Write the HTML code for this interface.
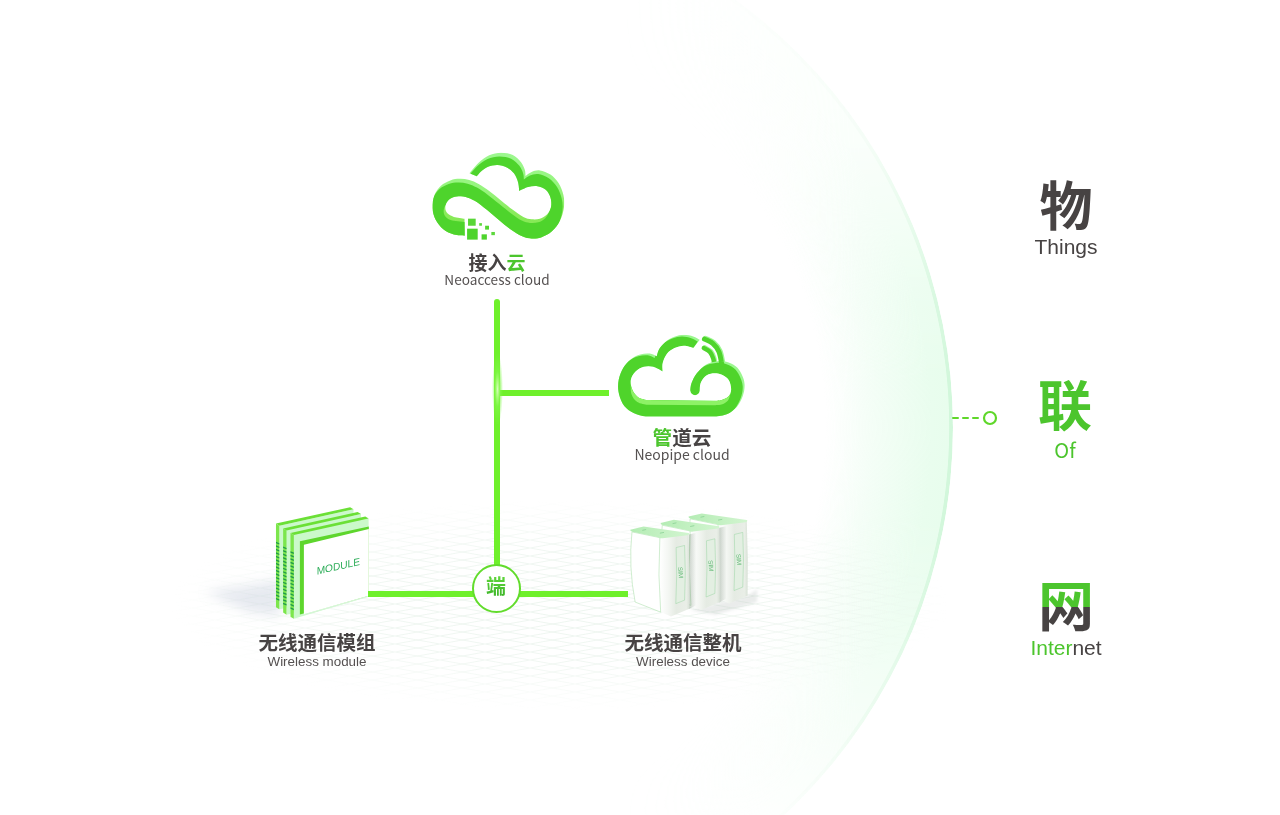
<!DOCTYPE html>
<html lang="zh-CN">
<head>
<meta charset="utf-8">
<title>物联网</title>
<style>
html,body{margin:0;padding:0;background:#fff;}
body{width:1280px;height:815px;position:relative;overflow:hidden;font-family:"Liberation Sans","Noto Sans CJK SC",sans-serif;color:#474343;}
.abs{position:absolute;}
.cn{font-family:"Noto Sans CJK SC","Liberation Sans",sans-serif;font-weight:700;}
.g{color:#4cc52d;}
.lbl,.right,#duan,svg.abs{will-change:transform;}
.lbl{position:absolute;text-align:center;white-space:nowrap;transform:translateX(-50%);}
.lbl .t{display:block;font-family:"Noto Sans CJK SC",sans-serif;font-weight:700;font-size:19.5px;line-height:24px;color:#474343;}
.lbl .s{display:block;font-size:13.4px;line-height:16px;color:#555151;}
.lbl .s.ns{font-family:"Noto Sans CJK SC",sans-serif;font-size:13.6px;}
.line{position:absolute;background:#6ff02b;}
#arcwrap{position:absolute;left:0;top:0;width:1280px;height:815px;-webkit-mask-image:linear-gradient(to right,transparent 620px,#000 860px);mask-image:linear-gradient(to right,transparent 620px,#000 860px);}
#arc{position:absolute;left:-106.6px;top:-102px;width:1059.2px;height:1059.2px;border-radius:50%;
 background:radial-gradient(circle closest-side,rgba(233,253,238,0) 0,rgba(233,253,238,0) 76%,rgba(233,253,238,.5) 85%,rgba(233,253,238,1) 96%,rgba(232,253,237,1) 99.3%,rgba(210,247,219,1) 99.45%,rgba(210,247,219,1) 100%);
 -webkit-mask-image:linear-gradient(to bottom,rgba(0,0,0,0) 0,rgba(0,0,0,.1) 9.6%,rgba(0,0,0,.22) 22.8%,rgba(0,0,0,.5) 30.4%,rgba(0,0,0,.85) 38%,#000 45.5%,#000 58.7%,rgba(0,0,0,.75) 68%,rgba(0,0,0,.45) 75.7%,rgba(0,0,0,.12) 86.6%,rgba(0,0,0,0) 100%);
 mask-image:linear-gradient(to bottom,rgba(0,0,0,0) 0,rgba(0,0,0,.1) 9.6%,rgba(0,0,0,.22) 22.8%,rgba(0,0,0,.5) 30.4%,rgba(0,0,0,.85) 38%,#000 45.5%,#000 58.7%,rgba(0,0,0,.75) 68%,rgba(0,0,0,.45) 75.7%,rgba(0,0,0,.12) 86.6%,rgba(0,0,0,0) 100%);}
.right{position:absolute;text-align:center;white-space:nowrap;transform:translateX(-50%);}
.right .big{display:block;font-family:"Noto Sans CJK SC",sans-serif;font-weight:700;font-size:52px;line-height:60px;}
.duan{background:linear-gradient(to bottom,#5fd63a 0,#5fd63a 25%,#3fb62a 75%,#3fb62a 100%);-webkit-background-clip:text;background-clip:text;color:transparent;-webkit-text-fill-color:transparent;}
.wang{background:linear-gradient(to bottom,#4cc52d 0,#4cc52d 33.4px,#474343 33.4px,#474343 100%);-webkit-background-clip:text;background-clip:text;color:transparent;-webkit-text-fill-color:transparent;}
.right .sm{display:block;font-size:21px;line-height:24px;}
</style>
</head>
<body>
<div id="arcwrap"><div id="arc"></div></div>

<!-- floor grid -->
<svg class="abs" style="left:170px;top:500px" width="780" height="210" viewBox="0 0 780 210">
<defs>
<pattern id="gp" width="45" height="8" patternUnits="userSpaceOnUse"><path d="M0 0L45 8M0 8L45 0" stroke="#e9f2eb" stroke-width=".8" fill="none"/></pattern>
<radialGradient id="gm" cx=".5" cy=".5" r=".5"><stop offset="0" stop-color="#fff"/><stop offset=".55" stop-color="#fff" stop-opacity=".8"/><stop offset="1" stop-color="#fff" stop-opacity="0"/></radialGradient>
<mask id="gmask"><rect width="780" height="210" fill="url(#gm)"/></mask>
</defs>
<rect width="780" height="210" fill="url(#gp)" mask="url(#gmask)"/>
</svg>

<svg class="abs" style="left:428px;top:148px" width="140" height="96" viewBox="0 0 1189 815">
<defs><clipPath id="c1clip"><path d="M352.0 215.0C365.0 200.0 402.0 150.5 430.0 125.0C458.0 99.5 488.3 76.2 520.0 62.0C551.7 47.8 586.7 40.3 620.0 40.0C653.3 39.7 691.7 46.7 720.0 60.0C748.3 73.3 773.0 99.2 790.0 120.0C807.0 140.8 815.7 165.5 822.0 185.0C828.3 204.5 827.0 228.3 828.0 237.0C836.7 231.3 859.7 210.8 880.0 203.0C900.3 195.2 923.3 186.3 950.0 190.0C976.7 193.7 1013.3 206.7 1040.0 225.0C1066.7 243.3 1091.7 270.8 1110.0 300.0C1128.3 329.2 1142.5 366.7 1150.0 400.0C1157.5 433.3 1160.0 463.3 1155.0 500.0C1150.0 536.7 1137.5 585.0 1120.0 620.0C1102.5 655.0 1076.7 686.7 1050.0 710.0C1023.3 733.3 988.3 750.0 960.0 760.0C931.7 770.0 906.7 771.7 880.0 770.0C853.3 768.3 830.0 763.3 800.0 750.0C770.0 736.7 733.3 713.3 700.0 690.0C666.7 666.7 633.3 637.5 600.0 610.0C566.7 582.5 533.3 551.7 500.0 525.0C466.7 498.3 430.0 468.3 400.0 450.0C370.0 431.7 343.3 421.7 320.0 415.0C296.7 408.3 280.0 408.3 260.0 410.0C240.0 411.7 216.7 416.7 200.0 425.0C183.3 433.3 168.8 445.8 160.0 460.0C151.2 474.2 146.2 494.2 147.0 510.0C147.8 525.8 152.8 542.5 165.0 555.0C177.2 567.5 195.8 577.5 220.0 585.0C244.2 592.5 295.0 597.5 310.0 600.0L312.0 745.0C296.7 743.3 250.3 744.2 220.0 735.0C189.7 725.8 155.8 710.8 130.0 690.0C104.2 669.2 80.3 640.0 65.0 610.0C49.7 580.0 39.7 545.0 38.0 510.0C36.3 475.0 43.0 431.7 55.0 400.0C67.0 368.3 87.5 340.8 110.0 320.0C132.5 299.2 163.3 284.7 190.0 275.0C216.7 265.3 243.3 262.5 270.0 262.0C296.7 261.5 323.3 264.8 350.0 272.0C376.7 279.2 401.7 289.5 430.0 305.0C458.3 320.5 488.3 341.7 520.0 365.0C551.7 388.3 586.7 418.3 620.0 445.0C653.3 471.7 688.3 501.7 720.0 525.0C751.7 548.3 783.3 571.7 810.0 585.0C836.7 598.3 856.7 602.5 880.0 605.0C903.3 607.5 928.3 606.7 950.0 600.0C971.7 593.3 994.2 581.7 1010.0 565.0C1025.8 548.3 1040.0 524.2 1045.0 500.0C1050.0 475.8 1047.5 444.2 1040.0 420.0C1032.5 395.8 1018.3 370.8 1000.0 355.0C981.7 339.2 955.0 328.8 930.0 325.0C905.0 321.2 875.8 325.3 850.0 332.0C824.2 338.7 787.5 359.5 775.0 365.0C773.3 352.5 772.5 315.0 765.0 290.0C757.5 265.0 745.8 235.8 730.0 215.0C714.2 194.2 693.3 176.7 670.0 165.0C646.7 153.3 616.7 145.8 590.0 145.0C563.3 144.2 533.3 150.8 510.0 160.0C486.7 169.2 465.8 186.7 450.0 200.0C434.2 213.3 420.8 233.3 415.0 240.0Z"/></clipPath>
<linearGradient id="c1lg" x1="0" y1="0" x2="0" y2="1"><stop offset="0" stop-color="#9df892"/><stop offset=".45" stop-color="#96f47c"/><stop offset=".7" stop-color="#88ea58"/><stop offset="1" stop-color="#84e852"/></linearGradient></defs>
<g clip-path="url(#c1clip)">
<rect x="0" y="0" width="1189" height="815" fill="url(#c1lg)"/>
<path d="M352.0 215.0C365.0 200.0 402.0 150.5 430.0 125.0C458.0 99.5 488.3 76.2 520.0 62.0C551.7 47.8 586.7 40.3 620.0 40.0C653.3 39.7 691.7 46.7 720.0 60.0C748.3 73.3 773.0 99.2 790.0 120.0C807.0 140.8 815.7 165.5 822.0 185.0C828.3 204.5 827.0 228.3 828.0 237.0C836.7 231.3 859.7 210.8 880.0 203.0C900.3 195.2 923.3 186.3 950.0 190.0C976.7 193.7 1013.3 206.7 1040.0 225.0C1066.7 243.3 1091.7 270.8 1110.0 300.0C1128.3 329.2 1142.5 366.7 1150.0 400.0C1157.5 433.3 1160.0 463.3 1155.0 500.0C1150.0 536.7 1137.5 585.0 1120.0 620.0C1102.5 655.0 1076.7 686.7 1050.0 710.0C1023.3 733.3 988.3 750.0 960.0 760.0C931.7 770.0 906.7 771.7 880.0 770.0C853.3 768.3 830.0 763.3 800.0 750.0C770.0 736.7 733.3 713.3 700.0 690.0C666.7 666.7 633.3 637.5 600.0 610.0C566.7 582.5 533.3 551.7 500.0 525.0C466.7 498.3 430.0 468.3 400.0 450.0C370.0 431.7 343.3 421.7 320.0 415.0C296.7 408.3 280.0 408.3 260.0 410.0C240.0 411.7 216.7 416.7 200.0 425.0C183.3 433.3 168.8 445.8 160.0 460.0C151.2 474.2 146.2 494.2 147.0 510.0C147.8 525.8 152.8 542.5 165.0 555.0C177.2 567.5 190.0 577.5 220.0 585.0C250.0 592.5 324.2 597.5 345.0 600.0L345.0 745.0C324.2 743.3 255.8 744.2 220.0 735.0C184.2 725.8 155.8 710.8 130.0 690.0C104.2 669.2 80.3 640.0 65.0 610.0C49.7 580.0 39.7 545.0 38.0 510.0C36.3 475.0 43.0 431.7 55.0 400.0C67.0 368.3 87.5 340.8 110.0 320.0C132.5 299.2 163.3 284.7 190.0 275.0C216.7 265.3 243.3 262.5 270.0 262.0C296.7 261.5 323.3 264.8 350.0 272.0C376.7 279.2 401.7 289.5 430.0 305.0C458.3 320.5 488.3 341.7 520.0 365.0C551.7 388.3 586.7 418.3 620.0 445.0C653.3 471.7 688.3 501.7 720.0 525.0C751.7 548.3 783.3 571.7 810.0 585.0C836.7 598.3 856.7 602.5 880.0 605.0C903.3 607.5 928.3 606.7 950.0 600.0C971.7 593.3 994.2 581.7 1010.0 565.0C1025.8 548.3 1040.0 524.2 1045.0 500.0C1050.0 475.8 1047.5 444.2 1040.0 420.0C1032.5 395.8 1018.3 370.8 1000.0 355.0C981.7 339.2 955.0 328.8 930.0 325.0C905.0 321.2 875.8 325.3 850.0 332.0C824.2 338.7 787.5 359.5 775.0 365.0C773.3 352.5 772.5 315.0 765.0 290.0C757.5 265.0 745.8 235.8 730.0 215.0C714.2 194.2 693.3 176.7 670.0 165.0C646.7 153.3 616.7 145.8 590.0 145.0C563.3 144.2 533.3 150.8 510.0 160.0C486.7 169.2 465.8 186.7 450.0 200.0C434.2 213.3 420.8 233.3 415.0 240.0Z" transform="translate(-14,31)" fill="#4ed42c"/>
</g>
<rect x="340" y="600" width="65" height="60" fill="#58d636"/><rect x="332" y="685" width="90" height="93" fill="#4ed42c"/><rect x="455" y="733" width="45" height="45" fill="#4ed42c"/><rect x="485" y="660" width="33" height="33" fill="#54d632"/><rect x="435" y="638" width="23" height="22" fill="#5cd83c"/><rect x="538" y="713" width="30" height="27" fill="#5cd83c"/>
</svg>
<svg class="abs" style="left:612px;top:328px" width="140" height="96" viewBox="0 0 1189 815">
<defs><clipPath id="c2clip"><path d="M745.0 100.0C735.8 95.3 712.5 79.0 690.0 72.0C667.5 65.0 636.7 57.5 610.0 58.0C583.3 58.5 556.7 64.7 530.0 75.0C503.3 85.3 471.7 102.5 450.0 120.0C428.3 137.5 411.7 160.0 400.0 180.0C388.3 200.0 383.3 230.0 380.0 240.0C370.0 236.2 343.3 219.5 320.0 217.0C296.7 214.5 266.7 217.0 240.0 225.0C213.3 233.0 184.2 245.8 160.0 265.0C135.8 284.2 112.2 310.8 95.0 340.0C77.8 369.2 63.7 406.7 57.0 440.0C50.3 473.3 49.5 506.7 55.0 540.0C60.5 573.3 72.5 611.7 90.0 640.0C107.5 668.3 131.7 692.0 160.0 710.0C188.3 728.0 228.3 741.0 260.0 748.0C291.7 755.0 335.0 751.3 350.0 752.0L880.0 752.0C896.7 748.3 950.0 743.7 980.0 730.0C1010.0 716.3 1038.3 695.0 1060.0 670.0C1081.7 645.0 1098.8 611.7 1110.0 580.0C1121.2 548.3 1128.7 511.7 1127.0 480.0C1125.3 448.3 1112.8 415.8 1100.0 390.0C1087.2 364.2 1071.7 342.2 1050.0 325.0C1028.3 307.8 995.8 294.0 970.0 287.0C944.2 280.0 923.3 279.2 895.0 283.0C866.7 286.8 829.2 293.0 800.0 310.0C770.8 327.0 740.8 358.3 720.0 385.0C699.2 411.7 684.2 445.8 675.0 470.0C665.8 494.2 666.7 520.0 665.0 530.0A40 40 0 0 0 745 530C746.2 520.0 744.5 489.7 752.0 470.0C759.5 450.3 772.8 426.2 790.0 412.0C807.2 397.8 831.7 387.8 855.0 385.0C878.3 382.2 907.5 385.8 930.0 395.0C952.5 404.2 976.3 419.2 990.0 440.0C1003.7 460.8 1012.0 496.7 1012.0 520.0C1012.0 543.3 1003.7 564.7 990.0 580.0C976.3 595.3 948.3 605.7 930.0 612.0C911.7 618.3 888.3 617.0 880.0 618.0L300.0 612.0C286.7 607.5 241.3 600.3 220.0 585.0C198.7 569.7 182.0 544.2 172.0 520.0C162.0 495.8 155.3 465.0 160.0 440.0C164.7 415.0 181.7 388.3 200.0 370.0C218.3 351.7 245.0 336.7 270.0 330.0C295.0 323.3 323.3 323.3 350.0 330.0C376.7 336.7 416.7 363.3 430.0 370.0C430.0 358.3 424.2 325.0 430.0 300.0C435.8 275.0 448.3 241.7 465.0 220.0C481.7 198.3 505.8 181.7 530.0 170.0C554.2 158.3 582.8 150.3 610.0 150.0C637.2 149.7 679.2 165.0 693.0 168.0Z"/><path d="M795.0 88.0C806.7 94.2 844.5 107.2 865.0 125.0C885.5 142.8 905.2 165.8 918.0 195.0C930.8 224.2 938.0 282.5 942.0 300.0" fill="none" stroke="#000" stroke-width="42" stroke-linecap="round"/></clipPath>
<clipPath id="c2clipb"><path d="M745.0 100.0C735.8 95.3 712.5 79.0 690.0 72.0C667.5 65.0 636.7 57.5 610.0 58.0C583.3 58.5 556.7 64.7 530.0 75.0C503.3 85.3 471.7 102.5 450.0 120.0C428.3 137.5 411.7 160.0 400.0 180.0C388.3 200.0 383.3 230.0 380.0 240.0C370.0 236.2 343.3 219.5 320.0 217.0C296.7 214.5 266.7 217.0 240.0 225.0C213.3 233.0 184.2 245.8 160.0 265.0C135.8 284.2 112.2 310.8 95.0 340.0C77.8 369.2 63.7 406.7 57.0 440.0C50.3 473.3 49.5 506.7 55.0 540.0C60.5 573.3 72.5 611.7 90.0 640.0C107.5 668.3 131.7 692.0 160.0 710.0C188.3 728.0 228.3 741.0 260.0 748.0C291.7 755.0 335.0 751.3 350.0 752.0L880.0 752.0C896.7 748.3 950.0 743.7 980.0 730.0C1010.0 716.3 1038.3 695.0 1060.0 670.0C1081.7 645.0 1098.8 611.7 1110.0 580.0C1121.2 548.3 1128.7 511.7 1127.0 480.0C1125.3 448.3 1112.8 415.8 1100.0 390.0C1087.2 364.2 1071.7 342.2 1050.0 325.0C1028.3 307.8 995.8 294.0 970.0 287.0C944.2 280.0 923.3 279.2 895.0 283.0C866.7 286.8 829.2 293.0 800.0 310.0C770.8 327.0 740.8 358.3 720.0 385.0C699.2 411.7 684.2 445.8 675.0 470.0C665.8 494.2 666.7 520.0 665.0 530.0A40 40 0 0 0 745 530C746.2 520.0 744.5 489.7 752.0 470.0C759.5 450.3 772.8 426.2 790.0 412.0C807.2 397.8 831.7 387.8 855.0 385.0C878.3 382.2 907.5 385.8 930.0 395.0C952.5 404.2 976.3 419.2 990.0 440.0C1003.7 460.8 1012.0 496.7 1012.0 520.0C1012.0 543.3 1003.7 564.7 990.0 580.0C976.3 595.3 948.3 605.7 930.0 612.0C911.7 618.3 888.3 617.0 880.0 618.0L300.0 612.0C286.7 607.5 241.3 600.3 220.0 585.0C198.7 569.7 182.0 544.2 172.0 520.0C162.0 495.8 155.3 465.0 160.0 440.0C164.7 415.0 181.7 388.3 200.0 370.0C218.3 351.7 245.0 336.7 270.0 330.0C295.0 323.3 323.3 323.3 350.0 330.0C376.7 336.7 416.7 363.3 430.0 370.0C430.0 358.3 424.2 325.0 430.0 300.0C435.8 275.0 448.3 241.7 465.0 220.0C481.7 198.3 505.8 181.7 530.0 170.0C554.2 158.3 582.8 150.3 610.0 150.0C637.2 149.7 679.2 165.0 693.0 168.0Z"/></clipPath></defs>
<path d="M795.0 88.0C806.7 94.2 844.5 107.2 865.0 125.0C885.5 142.8 905.2 165.8 918.0 195.0C930.8 224.2 938.0 282.5 942.0 300.0" fill="none" stroke="#9bf78f" stroke-width="42" stroke-linecap="round"/>
<path d="M795.0 88.0C806.7 94.2 844.5 107.2 865.0 125.0C885.5 142.8 905.2 165.8 918.0 195.0C930.8 224.2 938.0 282.5 942.0 300.0" fill="none" stroke="#4fd42b" stroke-width="42" stroke-linecap="round" transform="translate(-10,6)"/>
<path d="M788.0 165.0C796.7 170.5 826.7 183.0 840.0 198.0C853.3 213.0 862.2 238.0 868.0 255.0C873.8 272.0 873.8 292.5 875.0 300.0" fill="none" stroke="#9bf78f" stroke-width="38" stroke-linecap="round"/>
<path d="M788.0 165.0C796.7 170.5 826.7 183.0 840.0 198.0C853.3 213.0 862.2 238.0 868.0 255.0C873.8 272.0 873.8 292.5 875.0 300.0" fill="none" stroke="#4fd42b" stroke-width="38" stroke-linecap="round" transform="translate(-8,5)"/>
<g clip-path="url(#c2clipb)">
<rect x="0" y="0" width="1189" height="815" fill="#9bf78f"/>
<path d="M728.0 115.0C718.8 110.3 695.5 94.0 673.0 87.0C650.5 80.0 619.7 72.5 593.0 73.0C566.3 73.5 539.7 79.7 513.0 90.0C486.3 100.3 454.7 117.5 433.0 135.0C411.3 152.5 394.7 175.0 383.0 195.0C371.3 215.0 366.3 245.0 363.0 255.0C353.0 251.2 326.3 234.5 303.0 232.0C279.7 229.5 249.7 232.0 223.0 240.0C196.3 248.0 167.2 260.8 143.0 280.0C118.8 299.2 95.2 325.8 78.0 355.0C60.8 384.2 46.7 421.7 40.0 455.0C33.3 488.3 32.5 521.7 38.0 555.0C43.5 588.3 55.5 626.7 73.0 655.0C90.5 683.3 114.7 707.0 143.0 725.0C171.3 743.0 211.3 756.0 243.0 763.0C274.7 770.0 318.0 766.3 333.0 767.0L863.0 767.0C879.7 763.3 933.0 758.7 963.0 745.0C993.0 731.3 1021.3 710.0 1043.0 685.0C1064.7 660.0 1081.8 626.7 1093.0 595.0C1104.2 563.3 1111.7 526.7 1110.0 495.0C1108.3 463.3 1095.8 430.8 1083.0 405.0C1070.2 379.2 1054.7 357.2 1033.0 340.0C1011.3 322.8 978.8 309.0 953.0 302.0C927.2 295.0 906.3 294.2 878.0 298.0C849.7 301.8 812.2 308.0 783.0 325.0C753.8 342.0 723.8 373.3 703.0 400.0C682.2 426.7 667.2 460.8 658.0 485.0C648.8 509.2 649.7 535.0 648.0 545.0L665.0 530.0A40 40 0 0 0 745 530C746.2 520.0 744.5 489.7 752.0 470.0C759.5 450.3 772.8 426.2 790.0 412.0C807.2 397.8 831.7 387.8 855.0 385.0C878.3 382.2 907.5 385.8 930.0 395.0C952.5 404.2 976.3 419.2 990.0 440.0C1003.7 460.8 1012.0 496.7 1012.0 520.0C1012.0 543.3 1003.7 564.7 990.0 580.0C976.3 595.3 948.3 605.7 930.0 612.0C911.7 618.3 888.3 617.0 880.0 618.0L300.0 612.0C286.7 607.5 241.3 600.3 220.0 585.0C198.7 569.7 182.0 544.2 172.0 520.0C162.0 495.8 155.3 465.0 160.0 440.0C164.7 415.0 181.7 388.3 200.0 370.0C218.3 351.7 245.0 336.7 270.0 330.0C295.0 323.3 323.3 323.3 350.0 330.0C376.7 336.7 416.7 363.3 430.0 370.0C430.0 358.3 424.2 325.0 430.0 300.0C435.8 275.0 448.3 241.7 465.0 220.0C481.7 198.3 505.8 181.7 530.0 170.0C554.2 158.3 582.8 150.3 610.0 150.0C637.2 149.7 679.2 165.0 693.0 168.0Z" fill="#4fd42b"/>
<path d="M795.0 88.0C806.7 94.2 844.5 107.2 865.0 125.0C885.5 142.8 905.2 165.8 918.0 195.0C930.8 224.2 938.0 282.5 942.0 300.0" fill="none" stroke="#4fd42b" stroke-width="42" stroke-linecap="round" transform="translate(-10,6)"/>
<path d="M160.0 450.0C162.0 461.7 162.0 497.5 172.0 520.0C182.0 542.5 198.7 569.7 220.0 585.0C241.3 600.3 286.7 607.5 300.0 612.0L880.0 618.0C888.3 617.0 911.7 618.3 930.0 612.0C948.3 605.7 976.3 595.3 990.0 580.0C1003.7 564.7 1008.3 530.0 1012.0 520.0L1005.0 560.0C1001.7 569.2 997.5 600.0 985.0 615.0C972.5 630.0 947.5 643.3 930.0 650.0C912.5 656.7 888.3 654.2 880.0 655.0L300.0 652.0C285.8 648.0 237.5 643.3 215.0 628.0C192.5 612.7 174.2 589.7 165.0 560.0C155.8 530.3 160.8 468.3 160.0 450.0Z" fill="#8df266"/>
</g>
</svg>
<svg class="abs" style="left:160px;top:540px" width="140" height="100" viewBox="0 0 140 100"><defs><filter id="mblur" x="-30%" y="-30%" width="160%" height="160%"><feGaussianBlur stdDeviation="6"/></filter></defs><polygon points="120,40 120,76 90,72 45,52 85,46" fill="rgba(160,170,195,.25)" filter="url(#mblur)"/></svg>
<svg class="abs" style="left:260px;top:500px" width="120" height="130" viewBox="0 0 752 815"><polygon points="121,161 586,58 586,578 121,685" fill="#cbf9cb"/><polygon points="100,148 565,45 586,58 121,161" fill="#6be036"/><polygon points="100,148 121,161 121,685 100,672" fill="#7ce64c"/><rect x="100" y="262" width="21" height="9" fill="#1f9a4a" transform="skewY(22)" transform-origin="100 262"/><rect x="100" y="284" width="21" height="9" fill="#1f9a4a" transform="skewY(22)" transform-origin="100 284"/><rect x="100" y="306" width="21" height="9" fill="#1f9a4a" transform="skewY(22)" transform-origin="100 306"/><rect x="100" y="328" width="21" height="9" fill="#1f9a4a" transform="skewY(22)" transform-origin="100 328"/><rect x="100" y="350" width="21" height="9" fill="#1f9a4a" transform="skewY(22)" transform-origin="100 350"/><rect x="100" y="372" width="21" height="9" fill="#1f9a4a" transform="skewY(22)" transform-origin="100 372"/><rect x="100" y="394" width="21" height="9" fill="#1f9a4a" transform="skewY(22)" transform-origin="100 394"/><rect x="100" y="416" width="21" height="9" fill="#1f9a4a" transform="skewY(22)" transform-origin="100 416"/><rect x="100" y="438" width="21" height="9" fill="#1f9a4a" transform="skewY(22)" transform-origin="100 438"/><rect x="100" y="460" width="21" height="9" fill="#1f9a4a" transform="skewY(22)" transform-origin="100 460"/><rect x="100" y="482" width="21" height="9" fill="#1f9a4a" transform="skewY(22)" transform-origin="100 482"/><rect x="100" y="504" width="21" height="9" fill="#1f9a4a" transform="skewY(22)" transform-origin="100 504"/><rect x="100" y="526" width="21" height="9" fill="#1f9a4a" transform="skewY(22)" transform-origin="100 526"/><rect x="100" y="548" width="21" height="9" fill="#1f9a4a" transform="skewY(22)" transform-origin="100 548"/><rect x="100" y="570" width="21" height="9" fill="#1f9a4a" transform="skewY(22)" transform-origin="100 570"/><rect x="100" y="592" width="21" height="9" fill="#1f9a4a" transform="skewY(22)" transform-origin="100 592"/><rect x="100" y="614" width="21" height="9" fill="#1f9a4a" transform="skewY(22)" transform-origin="100 614"/><polygon points="166,191 633,88 633,608 166,719" fill="#cbf9cb"/><polygon points="145,178 612,75 633,88 166,191" fill="#6be036"/><polygon points="145,178 166,191 166,719 145,706" fill="#7ce64c"/><rect x="145" y="292" width="21" height="9" fill="#1f9a4a" transform="skewY(22)" transform-origin="145 292"/><rect x="145" y="314" width="21" height="9" fill="#1f9a4a" transform="skewY(22)" transform-origin="145 314"/><rect x="145" y="336" width="21" height="9" fill="#1f9a4a" transform="skewY(22)" transform-origin="145 336"/><rect x="145" y="358" width="21" height="9" fill="#1f9a4a" transform="skewY(22)" transform-origin="145 358"/><rect x="145" y="380" width="21" height="9" fill="#1f9a4a" transform="skewY(22)" transform-origin="145 380"/><rect x="145" y="402" width="21" height="9" fill="#1f9a4a" transform="skewY(22)" transform-origin="145 402"/><rect x="145" y="424" width="21" height="9" fill="#1f9a4a" transform="skewY(22)" transform-origin="145 424"/><rect x="145" y="446" width="21" height="9" fill="#1f9a4a" transform="skewY(22)" transform-origin="145 446"/><rect x="145" y="468" width="21" height="9" fill="#1f9a4a" transform="skewY(22)" transform-origin="145 468"/><rect x="145" y="490" width="21" height="9" fill="#1f9a4a" transform="skewY(22)" transform-origin="145 490"/><rect x="145" y="512" width="21" height="9" fill="#1f9a4a" transform="skewY(22)" transform-origin="145 512"/><rect x="145" y="534" width="21" height="9" fill="#1f9a4a" transform="skewY(22)" transform-origin="145 534"/><rect x="145" y="556" width="21" height="9" fill="#1f9a4a" transform="skewY(22)" transform-origin="145 556"/><rect x="145" y="578" width="21" height="9" fill="#1f9a4a" transform="skewY(22)" transform-origin="145 578"/><rect x="145" y="600" width="21" height="9" fill="#1f9a4a" transform="skewY(22)" transform-origin="145 600"/><rect x="145" y="622" width="21" height="9" fill="#1f9a4a" transform="skewY(22)" transform-origin="145 622"/><rect x="145" y="644" width="21" height="9" fill="#1f9a4a" transform="skewY(22)" transform-origin="145 644"/><polygon points="212,220 681,116 681,605 212,745" fill="#cbf9cb"/><polygon points="191,207 660,103 681,116 212,220" fill="#6be036"/><polygon points="191,207 212,220 212,745 191,732" fill="#7ce64c"/><rect x="191" y="321" width="21" height="9" fill="#1f9a4a" transform="skewY(22)" transform-origin="191 321"/><rect x="191" y="343" width="21" height="9" fill="#1f9a4a" transform="skewY(22)" transform-origin="191 343"/><rect x="191" y="365" width="21" height="9" fill="#1f9a4a" transform="skewY(22)" transform-origin="191 365"/><rect x="191" y="387" width="21" height="9" fill="#1f9a4a" transform="skewY(22)" transform-origin="191 387"/><rect x="191" y="409" width="21" height="9" fill="#1f9a4a" transform="skewY(22)" transform-origin="191 409"/><rect x="191" y="431" width="21" height="9" fill="#1f9a4a" transform="skewY(22)" transform-origin="191 431"/><rect x="191" y="453" width="21" height="9" fill="#1f9a4a" transform="skewY(22)" transform-origin="191 453"/><rect x="191" y="475" width="21" height="9" fill="#1f9a4a" transform="skewY(22)" transform-origin="191 475"/><rect x="191" y="497" width="21" height="9" fill="#1f9a4a" transform="skewY(22)" transform-origin="191 497"/><rect x="191" y="519" width="21" height="9" fill="#1f9a4a" transform="skewY(22)" transform-origin="191 519"/><rect x="191" y="541" width="21" height="9" fill="#1f9a4a" transform="skewY(22)" transform-origin="191 541"/><rect x="191" y="563" width="21" height="9" fill="#1f9a4a" transform="skewY(22)" transform-origin="191 563"/><rect x="191" y="585" width="21" height="9" fill="#1f9a4a" transform="skewY(22)" transform-origin="191 585"/><rect x="191" y="607" width="21" height="9" fill="#1f9a4a" transform="skewY(22)" transform-origin="191 607"/><rect x="191" y="629" width="21" height="9" fill="#1f9a4a" transform="skewY(22)" transform-origin="191 629"/><rect x="191" y="651" width="21" height="9" fill="#1f9a4a" transform="skewY(22)" transform-origin="191 651"/><rect x="191" y="673" width="21" height="9" fill="#1f9a4a" transform="skewY(22)" transform-origin="191 673"/><polygon points="250,259 682,166 682,600 250,718" fill="#5ed62d"/><polygon points="275,280 682,182 682,600 275,716" fill="#ffffff"/><polygon points="275,716 682,600 682,606 275,722" fill="#d8f5d8"/><text x="355" y="468" font-family="Liberation Sans, sans-serif" font-size="66" fill="#2fae5a" transform="translate(355,468) skewY(-12.5) translate(-355,-468)" textLength="272" lengthAdjust="spacingAndGlyphs">MODULE</text></svg>
<svg class="abs" style="left:620px;top:500px" width="140" height="130" viewBox="0 0 878 815"><defs>
<linearGradient id="dtop" x1="0" y1="0" x2="1" y2="0"><stop offset="0" stop-color="#b4ecb4"/><stop offset="1" stop-color="#d2f5d0"/></linearGradient>
<linearGradient id="dside0" gradientUnits="userSpaceOnUse" x1="250" y1="0" x2="435" y2="0"><stop offset="0" stop-color="#ffffff"/><stop offset=".3" stop-color="#f3f6f2"/><stop offset=".55" stop-color="#e5ebe3"/><stop offset=".9" stop-color="#e9eee7"/><stop offset="1" stop-color="#d9e2d7"/></linearGradient><linearGradient id="dside1" gradientUnits="userSpaceOnUse" x1="440" y1="0" x2="625" y2="0"><stop offset="0" stop-color="#ffffff"/><stop offset=".3" stop-color="#f3f6f2"/><stop offset=".55" stop-color="#e5ebe3"/><stop offset=".9" stop-color="#e9eee7"/><stop offset="1" stop-color="#d9e2d7"/></linearGradient><linearGradient id="dside2" gradientUnits="userSpaceOnUse" x1="615" y1="0" x2="800" y2="0"><stop offset="0" stop-color="#ffffff"/><stop offset=".3" stop-color="#f3f6f2"/><stop offset=".55" stop-color="#e5ebe3"/><stop offset=".9" stop-color="#e9eee7"/><stop offset="1" stop-color="#d9e2d7"/></linearGradient><linearGradient id="dsh1" gradientUnits="userSpaceOnUse" x1="432" y1="0" x2="478" y2="0"><stop offset="0" stop-color="#7d917d" stop-opacity=".42"/><stop offset="1" stop-color="#7d917d" stop-opacity="0"/></linearGradient><linearGradient id="dsh2" gradientUnits="userSpaceOnUse" x1="622" y1="0" x2="668" y2="0"><stop offset="0" stop-color="#7d917d" stop-opacity=".42"/><stop offset="1" stop-color="#7d917d" stop-opacity="0"/></linearGradient><filter id="dblur" x="-30%" y="-30%" width="160%" height="160%"><feGaussianBlur stdDeviation="10"/></filter></defs><polygon points="440,690 800,600 860,560 860,640 600,720" fill="rgba(170,180,175,.25)" filter="url(#dblur)"/><path d="M615 154 L795 130 Q805 368 800 600 L685 649 L620 621 Q601 388 615 154Z" fill="url(#dside2)"/><path d="M440 118 Q417 338 460 558 L620 621 Q601 388 615 154Z" fill="#fff" stroke="#9bd99b" stroke-width="3"/><path d="M430 104 L513 84 L795 125 Q805 132 789 139 L633 158 Q617 160 603 151 L443 117 Q427 112 430 104Z" fill="url(#dtop)"/><path d="M505 108 l24 -5 M615 126 l26 -5" stroke="#7cc98a" stroke-width="4" fill="none"/><path d="M717 216 L770 203 Q779 378 770 546 L715 568 Q725 388 717 216Z" fill="#e3efe2" stroke="#86d092" stroke-width="2.5"/><text font-family="Liberation Sans, sans-serif" font-size="40" fill="#5fb873" transform="translate(729,338) rotate(86)">SIM</text><polygon points="622,174 668,164 668,618 622,642" fill="url(#dsh2)"/><path d="M440 194 L620 170 Q630 408 625 640 L510 689 L445 661 Q426 428 440 194Z" fill="url(#dside1)"/><path d="M265 158 Q242 378 285 598 L445 661 Q426 428 440 194Z" fill="#fff" stroke="#9bd99b" stroke-width="3"/><path d="M255 144 L338 124 L620 165 Q630 172 614 179 L458 198 Q442 200 428 191 L268 157 Q252 152 255 144Z" fill="url(#dtop)"/><path d="M330 148 l24 -5 M440 166 l26 -5" stroke="#7cc98a" stroke-width="4" fill="none"/><path d="M542 256 L595 243 Q604 418 595 586 L540 608 Q550 428 542 256Z" fill="#e3efe2" stroke="#86d092" stroke-width="2.5"/><text font-family="Liberation Sans, sans-serif" font-size="40" fill="#5fb873" transform="translate(554,378) rotate(86)">SIM</text><polygon points="432,216 478,206 478,660 432,684" fill="url(#dsh1)"/><path d="M250 236 L430 212 Q440 450 435 682 L320 731 L255 703 Q236 470 250 236Z" fill="url(#dside0)"/><path d="M75 200 Q52 420 95 640 L255 703 Q236 470 250 236Z" fill="#fff" stroke="#9bd99b" stroke-width="3"/><path d="M65 186 L148 166 L430 207 Q440 214 424 221 L268 240 Q252 242 238 233 L78 199 Q62 194 65 186Z" fill="url(#dtop)"/><path d="M140 190 l24 -5 M250 208 l26 -5" stroke="#7cc98a" stroke-width="4" fill="none"/><path d="M352 298 L405 285 Q414 460 405 628 L350 650 Q360 470 352 298Z" fill="#e3efe2" stroke="#86d092" stroke-width="2.5"/><text font-family="Liberation Sans, sans-serif" font-size="40" fill="#5fb873" transform="translate(364,420) rotate(86)">SIM</text></svg>
<!-- connector lines -->
<div class="line" style="left:494px;top:299px;width:6px;height:270px;border-radius:3px 3px 0 0"></div>
<div class="line" style="left:499px;top:390px;width:110px;height:6px"></div>
<div class="abs" style="left:491.5px;top:352px;width:11px;height:74px;border-radius:50%;background:radial-gradient(ellipse closest-side,rgba(225,255,205,.9) 0,rgba(190,255,150,.75) 22%,rgba(130,248,75,.7) 48%,rgba(111,240,43,0) 100%);"></div>
<div class="line" style="left:368px;top:591px;width:260px;height:6px"></div>
<div class="abs" id="duan" style="left:472px;top:563.5px;width:45px;height:45px;border:2px solid #62dc2c;border-radius:50%;background:#fff;text-align:center;">
  <span class="cn duan" style="font-size:20px;line-height:40px;display:block;margin-left:-1px">端</span>
</div>

<!-- labels -->
<div class="lbl" style="left:497px;top:250px"><span class="t" style="font-size:19px">接入<span class="g">云</span></span><span class="s ns" style="margin-top:-3px">Neoaccess cloud</span></div>
<div class="lbl" style="left:681.8px;top:424.6px"><span class="t" style="font-size:19.6px"><span class="g">管</span>道云</span><span class="s ns" style="font-size:14px;margin-top:-3px">Neopipe cloud</span></div>
<div class="lbl" style="left:317px;top:630px"><span class="t">无线通信模组</span><span class="s">Wireless module</span></div>
<div class="lbl" style="left:682.5px;top:630px"><span class="t">无线通信整机</span><span class="s">Wireless device</span></div>

<!-- right column -->
<div class="right" style="left:1065.5px;top:173px"><span class="big" style="font-size:53px">物</span><span class="sm" style="margin-top:2px">Things</span></div>
<div class="right g" style="left:1065.4px;top:373px"><span class="big" style="font-size:54px">联</span><span class="sm" style="font-family:'Noto Sans CJK SC',sans-serif;font-size:20px;margin-top:5px">Of</span></div>
<div class="right" style="left:1065.5px;top:573.5px"><span class="big wang" style="font-size:54px;transform:scaleX(1.04)">网</span><span class="sm" style="margin-top:1.5px"><span class="g">Inter</span>net</span></div>

<!-- dotted connector -->
<svg class="abs" style="left:945px;top:405px" width="60" height="26" viewBox="0 0 60 26">
  <path d="M8 13H33" stroke="#5fd72a" stroke-width="2" stroke-dasharray="5 5" stroke-linecap="round" fill="none"/>
  <circle cx="45" cy="13" r="6" fill="#fff" stroke="#5fd72a" stroke-width="2.2"/>
</svg>
</body>
</html>
